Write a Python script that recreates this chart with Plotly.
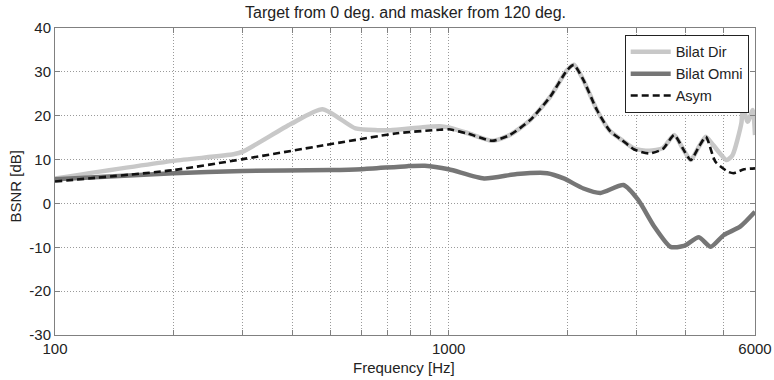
import plotly.graph_objects as go

# ---- data ----
dir_freq = [100, 200, 284, 300, 397, 478, 580, 660, 710, 860, 950, 1000, 1120, 1290, 1430,
            1610, 1810, 2000, 2080, 2200, 2380, 2570, 2750, 2960, 3230, 3500, 3740, 3930, 4120,
            4320, 4500, 4700, 5080, 5260, 5540, 5590, 5750, 5920, 6000]
dir_val = [5.7, 9.7, 11.2, 11.8, 18.1, 21.5, 17.1, 16.7, 16.7, 17.4, 17.6, 17.3, 16.0, 14.3, 15.6,
           19.0, 24.3, 30.4, 31.6, 28.1, 21.3, 16.5, 14.5, 12.5, 12.0, 12.6, 15.6, 12.6, 9.9,
           12.9, 15.2, 13.3, 9.9, 11.0, 18.3, 22.0, 18.6, 21.3, 15.6]

omni_freq = [100, 200, 300, 500, 600, 785, 870, 1000, 1230, 1490, 1780, 1960, 2200, 2430, 2780,
             3030, 3330, 3660, 3960, 4320, 4630, 5000, 5500, 6000]
omni_val = [5.5, 6.9, 7.4, 7.6, 7.8, 8.5, 8.6, 7.8, 5.7, 6.7, 6.9, 5.7, 3.4, 2.4, 4.2,
            0.8, -5.3, -9.9, -9.7, -7.7, -9.9, -7.2, -5.3, -1.9]

asym_freq = [100, 200, 300, 478, 740, 950, 1000, 1120, 1290, 1430, 1610, 1810, 2000, 2080, 2200,
             2380, 2570, 2750, 2960, 3230, 3500, 3740, 3930, 4120, 4320, 4500, 4760, 5130, 5300,
             5630, 6000]
asym_val = [5.0, 7.6, 10.1, 13.2, 16.0, 16.8, 16.9, 15.9, 14.3, 15.6, 19.0, 24.3, 30.4, 31.6, 28.1,
            21.3, 16.5, 14.5, 12.3, 11.4, 12.4, 15.6, 12.6, 9.9, 12.9, 15.2, 9.5, 7.2, 6.9,
            7.8, 8.0]

x_tickvals = [100, 200, 300, 400, 500, 600, 700, 800, 900, 1000, 2000, 3000, 4000, 5000, 6000]
x_ticktext = ["100", "", "", "", "", "", "", "", "", "1000", "", "", "", "", "6000"]
y_tickvals = [-30, -20, -10, 0, 10, 20, 30, 40]
y_ticktext = ["-30", "-20", "-10", "0", "10", "20", "30", "40"]

title_text = "Target from 0 deg. and masker from 120 deg."
x_title = "Frequency [Hz]"
y_title = "BSNR [dB]"

fig = go.Figure()
fig.add_trace(go.Scatter(x=dir_freq, y=dir_val, name="Bilat Dir", mode="lines",
                         line=dict(color="#c8c8c8", width=4.5, shape="spline", smoothing=0.6)))
fig.add_trace(go.Scatter(x=omni_freq, y=omni_val, name="Bilat Omni", mode="lines",
                         line=dict(color="#767676", width=4.5, shape="spline", smoothing=0.6)))
fig.add_trace(go.Scatter(x=asym_freq, y=asym_val, name="Asym", mode="lines",
                         line=dict(color="#111111", width=2.6, dash="7px,4px", shape="spline", smoothing=0.6)))

font_family = "Liberation Sans, Arial, sans-serif"
txt = "#222222"
fig.update_layout(
    width=774, height=380,
    margin=dict(l=55, r=19, t=28, b=45),
    paper_bgcolor="white", plot_bgcolor="white",
    font=dict(family=font_family, color=txt, size=15),
    showlegend=True,
    legend=dict(x=0.991, xanchor="right", y=0.9775, yanchor="top",
                bgcolor="white", bordercolor="#222222", borderwidth=1,
                font=dict(size=14.5, color=txt), tracegroupgap=0,
                itemwidth=40),
    xaxis=dict(type="log", range=[2, 3.778151], tickvals=x_tickvals, ticktext=x_ticktext,
               showgrid=True, gridcolor="#9a9a9a", griddash="1px,2px", gridwidth=1,
               showline=True, linecolor="#808080", linewidth=1, mirror="ticks",
               ticks="inside", ticklen=5, tickcolor="#808080",
               tickfont=dict(size=15), zeroline=False, automargin=False),
    yaxis=dict(range=[-30, 40], tickvals=y_tickvals, ticktext=y_ticktext,
               showgrid=True, gridcolor="#9a9a9a", griddash="1px,2px", gridwidth=1,
               showline=True, linecolor="#808080", linewidth=1, mirror="ticks",
               ticks="inside", ticklen=5, tickcolor="#808080",
               tickfont=dict(size=15), zeroline=False, automargin=False),
    annotations=[
        dict(text=title_text, xref="paper", yref="paper", x=0.5, y=1.0, yshift=16,
             xanchor="center", yanchor="middle", showarrow=False,
             font=dict(size=16, color=txt)),
        dict(text=x_title, xref="paper", yref="paper", x=0.4986, y=0.0, yshift=-32,
             xanchor="center", yanchor="middle", showarrow=False,
             font=dict(size=15, color=txt)),
        dict(text=y_title, xref="paper", yref="paper", x=0.0, xshift=-40, y=0.5, yshift=-5,
             xanchor="center", yanchor="middle", showarrow=False, textangle=-90,
             font=dict(size=15, color=txt)),
    ],
)

fig.write_html("out.html", config={"displayModeBar": False},
               post_script="document.body.style.margin='0';document.body.style.overflow='hidden';")
